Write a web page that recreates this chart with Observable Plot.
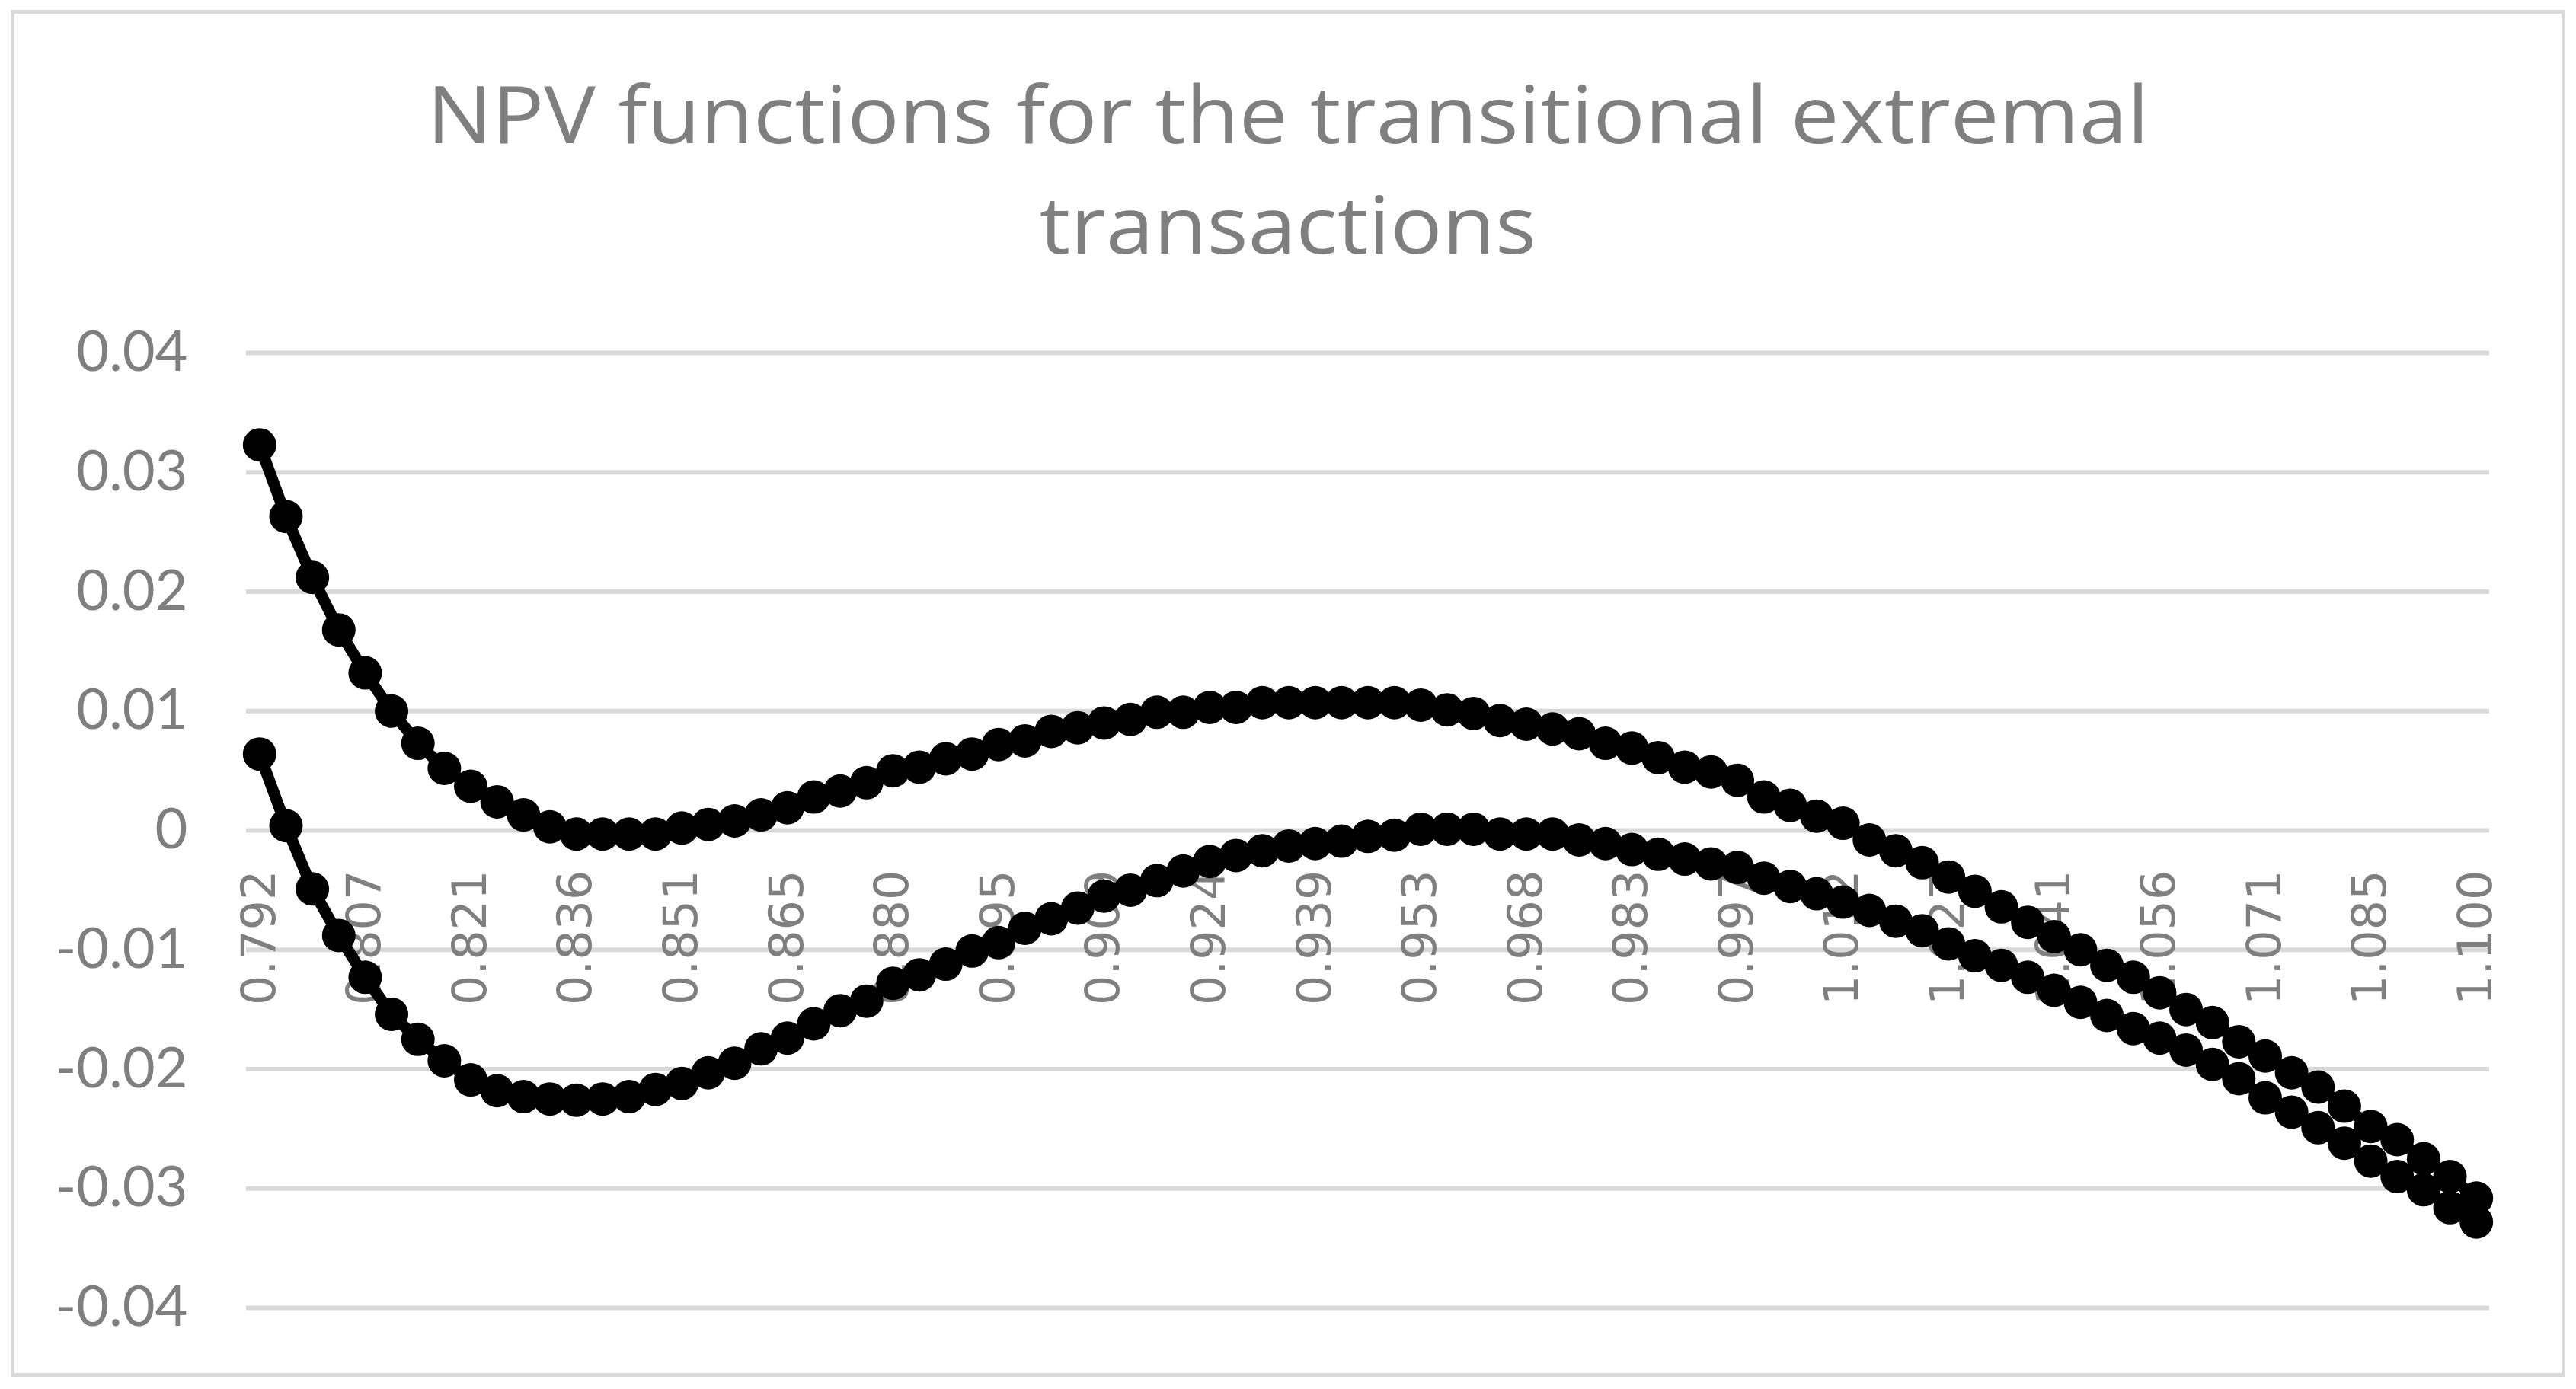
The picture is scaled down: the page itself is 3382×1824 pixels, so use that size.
<!DOCTYPE html>
<html>
<head>
<meta charset="utf-8">
<script src="https://cdn.jsdelivr.net/npm/d3@7"></script>
<script src="https://cdn.jsdelivr.net/npm/@observablehq/plot@0.6"></script>
<style>
  html, body { margin: 0; padding: 0; background: #ffffff; }
  #page { position: relative; width: 3382px; height: 1824px; background: #ffffff; overflow: hidden; }
  #frame { position: absolute; left: 14px; top: 13px; width: 3354px; height: 1795px; border: 5px solid #d9d9d9; box-sizing: border-box; }
  .title { position: absolute; left: 0; width: 3382px; text-align: center; color: #7f7f7f; white-space: nowrap;
           font-family: "Open Sans"; font-size: 105px; line-height: 105px;
           font-variant-ligatures: none; font-feature-settings: "liga" 0, "clig" 0, "dlig" 0, "calt" 0;
           transform-origin: 50% 50%; }
  #chart { position: absolute; left: 0; top: 380px; }
</style>
</head>
<body>
<div id="page">
  <div id="frame"></div>
  <div id="t1" class="title"></div>
  <div id="t2" class="title"></div>
  <div id="chart"></div>
</div>
<script>
// ---------------- data ----------------
const titleLines = ["NPV functions for the transitional extremal", "transactions"];

const categories = [
  "0.792","0.796","0.799","0.803","0.807","0.810","0.814","0.818","0.821","0.825",
  "0.829","0.832","0.836","0.840","0.843","0.847","0.851","0.854","0.858","0.862",
  "0.865","0.869","0.873","0.876","0.880","0.884","0.887","0.891","0.895","0.898",
  "0.902","0.906","0.909","0.913","0.917","0.920","0.924","0.928","0.931","0.935",
  "0.939","0.942","0.946","0.950","0.953","0.957","0.961","0.964","0.968","0.972",
  "0.975","0.979","0.983","0.986","0.990","0.994","0.997","1.001","1.005","1.008",
  "1.012","1.016","1.019","1.023","1.027","1.030","1.034","1.038","1.041","1.045",
  "1.049","1.052","1.056","1.060","1.063","1.067","1.071","1.074","1.078","1.082",
  "1.085","1.089","1.093","1.096","1.100"
];

const xTickLabels = [
  "0.792","0.807","0.821","0.836","0.851","0.865","0.880","0.895","0.909","0.924","0.939",
  "0.953","0.968","0.983","0.997","1.012","1.027","1.041","1.056","1.071","1.085","1.100"
];

const yTicks = [0.04, 0.03, 0.02, 0.01, 0, -0.01, -0.02, -0.03, -0.04];

const npvUpper = [
  0.0323, 0.0263, 0.0212, 0.0168, 0.0132, 0.0100, 0.0073, 0.0052, 0.0037, 0.0024,
  0.0013, 0.0003, -0.0003, -0.0003, -0.0003, -0.0003, 0.0002, 0.0005, 0.0008, 0.0013,
  0.0019, 0.0028, 0.0033, 0.0040, 0.0050, 0.0053, 0.0060, 0.0064, 0.0072, 0.0075,
  0.0083, 0.0086, 0.0090, 0.0093, 0.0099, 0.0099, 0.0103, 0.0103, 0.0107, 0.0107,
  0.0107, 0.0107, 0.0107, 0.0107, 0.0105, 0.0101, 0.0098, 0.0092, 0.0089, 0.0085,
  0.0081, 0.0073, 0.0069, 0.0061, 0.0053, 0.0049, 0.0042, 0.0028, 0.0021, 0.0012,
  0.0006, -0.0008, -0.0017, -0.0027, -0.0039, -0.0051, -0.0064, -0.0077, -0.0089, -0.0100,
  -0.0113, -0.0123, -0.0136, -0.0150, -0.0161, -0.0177, -0.0189, -0.0203, -0.0215, -0.0231,
  -0.0248, -0.0259, -0.0275, -0.0290, -0.0308
];

const npvLower = [
  0.0064, 0.0004, -0.0049, -0.0088, -0.0123, -0.0154, -0.0175, -0.0193, -0.0209, -0.0218,
  -0.0223, -0.0225, -0.0226, -0.0225, -0.0223, -0.0217, -0.0212, -0.0203, -0.0195, -0.0183,
  -0.0174, -0.0162, -0.0151, -0.0143, -0.0128, -0.0121, -0.0112, -0.0101, -0.0094, -0.0082,
  -0.0074, -0.0065, -0.0055, -0.0050, -0.0042, -0.0034, -0.0026, -0.0021, -0.0017, -0.0013,
  -0.0011, -0.0009, -0.0005, -0.0004, 0.0001, 0.0001, 0.0001, -0.0003, -0.0003, -0.0003,
  -0.0008, -0.0011, -0.0016, -0.0020, -0.0024, -0.0028, -0.0031, -0.0040, -0.0047, -0.0053,
  -0.0060, -0.0067, -0.0076, -0.0084, -0.0095, -0.0105, -0.0113, -0.0123, -0.0134, -0.0144,
  -0.0155, -0.0166, -0.0174, -0.0184, -0.0196, -0.0208, -0.0224, -0.0236, -0.0249, -0.0262,
  -0.0277, -0.0290, -0.0301, -0.0316, -0.0328
];

// ---------------- title ----------------
const ctx = document.createElement("canvas").getContext("2d");
const titleSize = 105;
ctx.font = `${titleSize}px "Open Sans"`;
const m1 = ctx.measureText(titleLines[0]);
const titleScale = 2261 / m1.width;
function placeTitle(el, text, baselineY) {
  const m = ctx.measureText(text);
  const asc = m.fontBoundingBoxAscent, desc = m.fontBoundingBoxDescent;
  el.textContent = text;
  el.style.top = (baselineY - ((titleSize - (asc + desc)) / 2 + asc)) + "px";
  el.style.transform = `scaleX(${titleScale})`;
}
placeTitle(document.getElementById("t1"), titleLines[0], 188);
placeTitle(document.getElementById("t2"), titleLines[1], 333);

// ---------------- chart ----------------
const rowsUpper = categories.map((c, i) => ({cat: c, v: npvUpper[i]}));
const rowsLower = categories.map((c, i) => ({cat: c, v: npvLower[i]}));
const fmt = d => d === 0 ? "0" : (d < 0 ? "-" : "") + Math.abs(d).toFixed(2);

const chart = Plot.plot({
  width: 3382,
  height: 1420,
  marginTop: 83,
  marginBottom: 83,
  marginLeft: 323,
  marginRight: 114,
  style: {background: "transparent", overflow: "visible"},
  x: {type: "point", domain: categories, padding: 0.5, axis: null},
  y: {domain: [-0.04, 0.04], axis: null},
  marks: [
    Plot.ruleY(yTicks, {stroke: "#d9d9d9", strokeWidth: 6}),
    Plot.axisY(yTicks, {
      label: null, tickSize: 0, tickPadding: 77, tickFormat: fmt,
      fontSize: 74, fontFamily: "Lato", fill: "#7f7f7f"
    }),
    Plot.text(xTickLabels, {
      x: d => d, y: () => 0, text: d => d,
      rotate: -90, textAnchor: "end", lineAnchor: "middle",
      dy: 52, fontSize: 62, fontFamily: "DejaVu Sans", fill: "#7f7f7f"
    }),
    Plot.line(rowsUpper, {x: "cat", y: "v", stroke: "#000000", strokeWidth: 15}),
    Plot.dot(rowsUpper, {x: "cat", y: "v", r: 22, fill: "#000000", stroke: "none"}),
    Plot.line(rowsLower, {x: "cat", y: "v", stroke: "#000000", strokeWidth: 15}),
    Plot.dot(rowsLower, {x: "cat", y: "v", r: 22, fill: "#000000", stroke: "none"})
  ]
});
document.getElementById("chart").appendChild(chart);
</script>
</body>
</html>
